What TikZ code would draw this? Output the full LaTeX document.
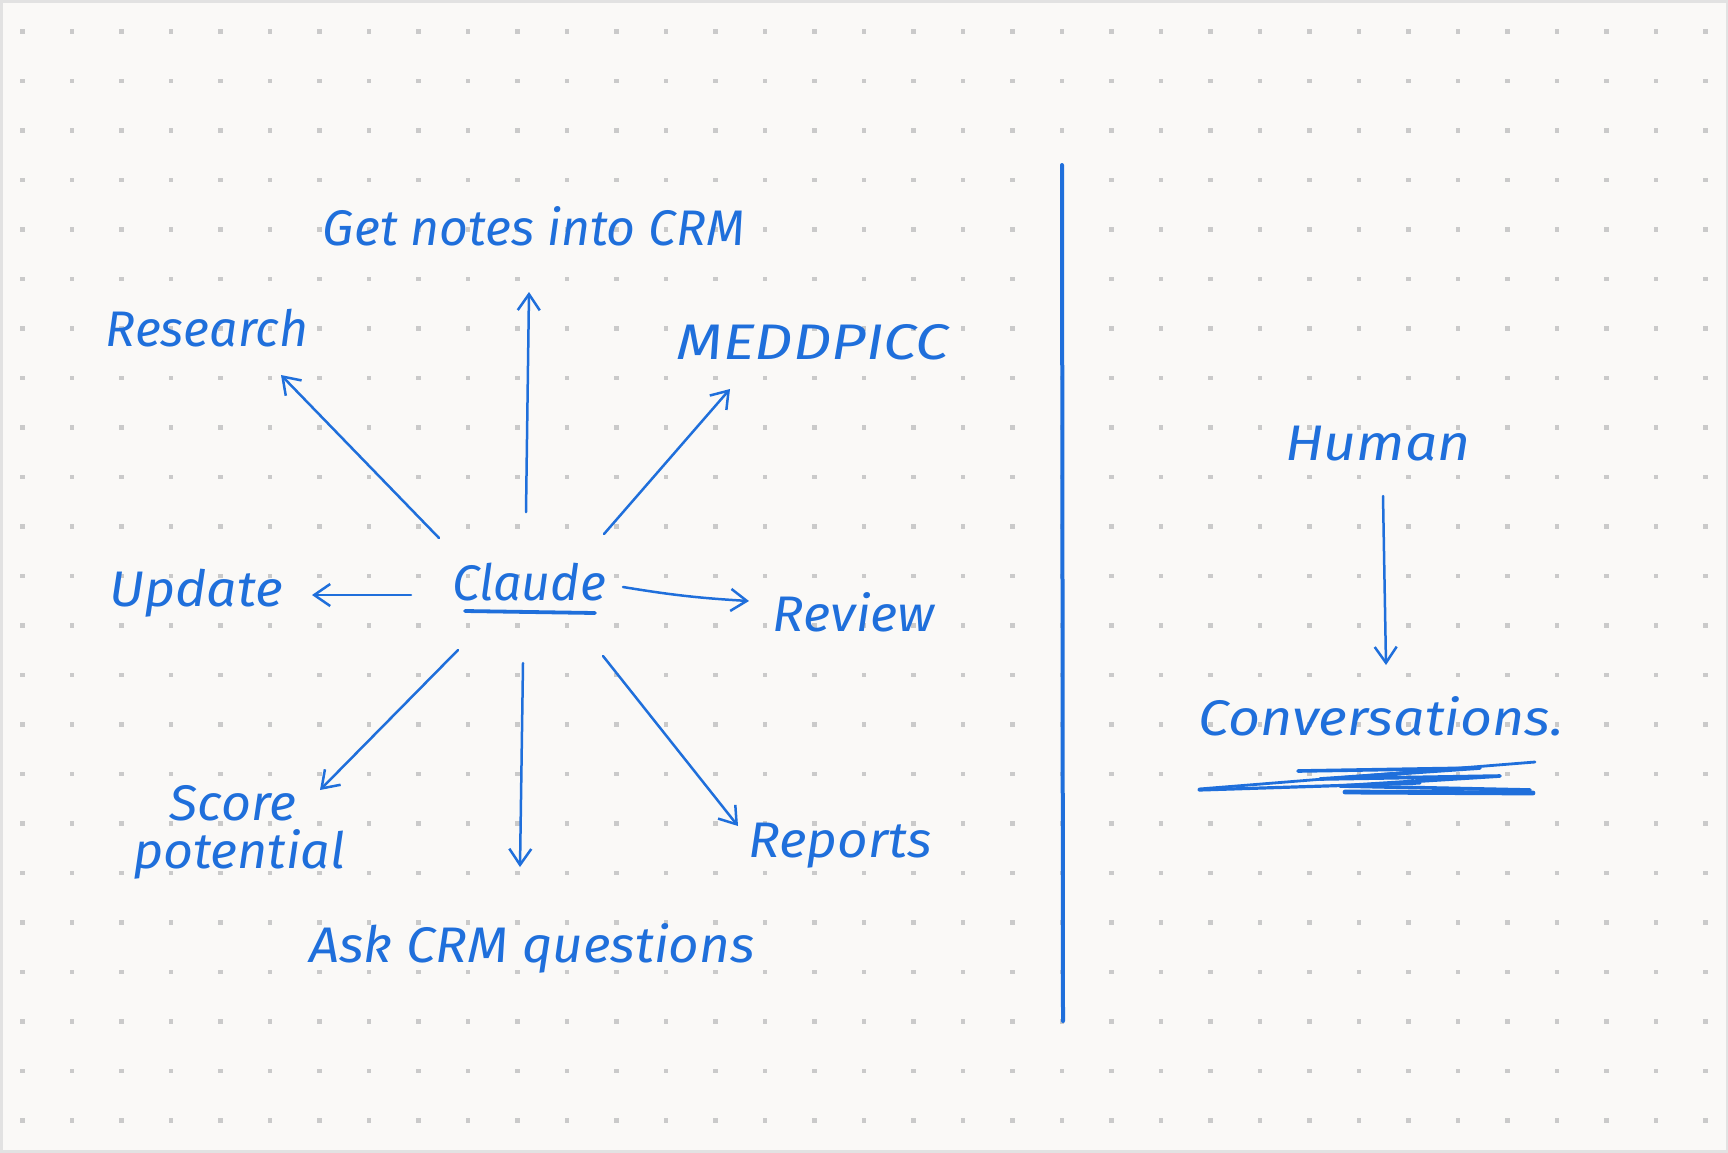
\documentclass[tikz,border=0pt]{standalone}
\usepackage{fontspec}
\setmainfont{Fira Sans}
\usetikzlibrary{arrows.meta}
\definecolor{ink}{HTML}{1F6FDB}
\definecolor{paper}{HTML}{FAF9F7}
\definecolor{dotc}{HTML}{CACACA}
\definecolor{framec}{HTML}{E2E2E2}
\begin{document}
\begin{tikzpicture}[x=0.5pt,y=-0.5pt,
  hand/.style={text=ink, font=\fontsize{25}{30}\selectfont\itshape, inner sep=0pt, align=center},
  link/.style={draw=ink, line width=1.25pt, line cap=round, line join=round,
    -{Straight Barb[length=8pt,width=11pt,line width=1.25pt]}},
  stroke/.style={draw=ink, line cap=round, line join=round}]
\useasboundingbox (0,0) rectangle (1728,1152);
\fill[paper] (0,0) rectangle (1728,1152);
\draw[framec, line width=1.5pt] (1,1) rectangle (1727,1151);
\foreach \i in {0,...,34} \foreach \j in {0,...,22}
  \fill[dotc] ({20.1+49.5*\i},{29.1+49.5*\j}) rectangle ++(4.4,4.4);

% nodes
\node[hand] (claude) at (529,582) {Claude};
\node[hand] (getnotes) at (534,226) {Get notes into CRM};
\node[hand] (research) at (207,328) {Research};
\node[hand, xscale=1.2] (meddpicc) at (813,342) {MEDDPICC};
\node[hand, xscale=1.07] (update) at (196,593) {Update};
\node[hand, xscale=1.05] (review) at (854,612) {Review};
\node[hand, font=\fontsize{25}{24}\selectfont\itshape, xscale=1.04] (score) at (233,832) {Score\\\hspace*{6pt}potential};
\node[hand, xscale=1.06] (reports) at (840,846) {Reports};
\node[hand, xscale=1.06] (ask) at (532,948) {Ask CRM questions};
\node[hand, xscale=1.14] (human) at (1378,444) {Human};
\node[hand, xscale=1.11] (conv) at (1381,716) {Conversations.};

% connector end points
\coordinate (cUp) at (526,512);   \coordinate (gUp) at (529,292);
\coordinate (cR) at (439,538);    \coordinate (rR) at (281,375);
\coordinate (cM) at (604,534);    \coordinate (mM) at (730,389);
\coordinate (cU) at (411,595);    \coordinate (uU) at (312,595);
\coordinate (cV) at (623,587);    \coordinate (vV) at (749,601);
\coordinate (cS) at (458,650);    \coordinate (sS) at (320,790);
\coordinate (cD) at (523,663);    \coordinate (aD) at (520,867);
\coordinate (cP) at (603,656);    \coordinate (pP) at (738,826);
\coordinate (hH) at (1383,496);   \coordinate (vH) at (1386,665);

\draw[link] (cUp) -- (gUp);
\draw[link] (cR) -- (rR);
\draw[link] (cM) -- (mM);
\draw[link] (cU) -- (uU);
\draw[link] (cV) to[bend right=3] (vV);
\draw[link] (cS) -- (sS);
\draw[link] (cD) -- (aD);
\draw[link] (cP) -- (pP);
\draw[link] (hH) -- (vH);

% underline Claude
\coordinate (ul1) at (465,611); \coordinate (ul2) at (595,613);
\draw[stroke, line width=1.9pt] (ul1) -- (ul2);

% divider
\coordinate (d1) at (1062,165); \coordinate (d2) at (1063,1021);
\draw[stroke, line width=2pt] (d1) -- (d2);

% scribble underline of Conversations.
\draw[stroke, line width=1.4pt] (1199,789) -- (1535,762);
\draw[stroke, line width=1.8pt] (1298,771) -- (1480,768) -- (1320,779) -- (1500,776) -- (1340,786) -- (1530,790);
\draw[stroke, line width=2.4pt] (1345,792) -- (1533,793);
\draw[stroke, line width=1.6pt] (1199,790) -- (1420,783);
\end{tikzpicture}
\end{document}
